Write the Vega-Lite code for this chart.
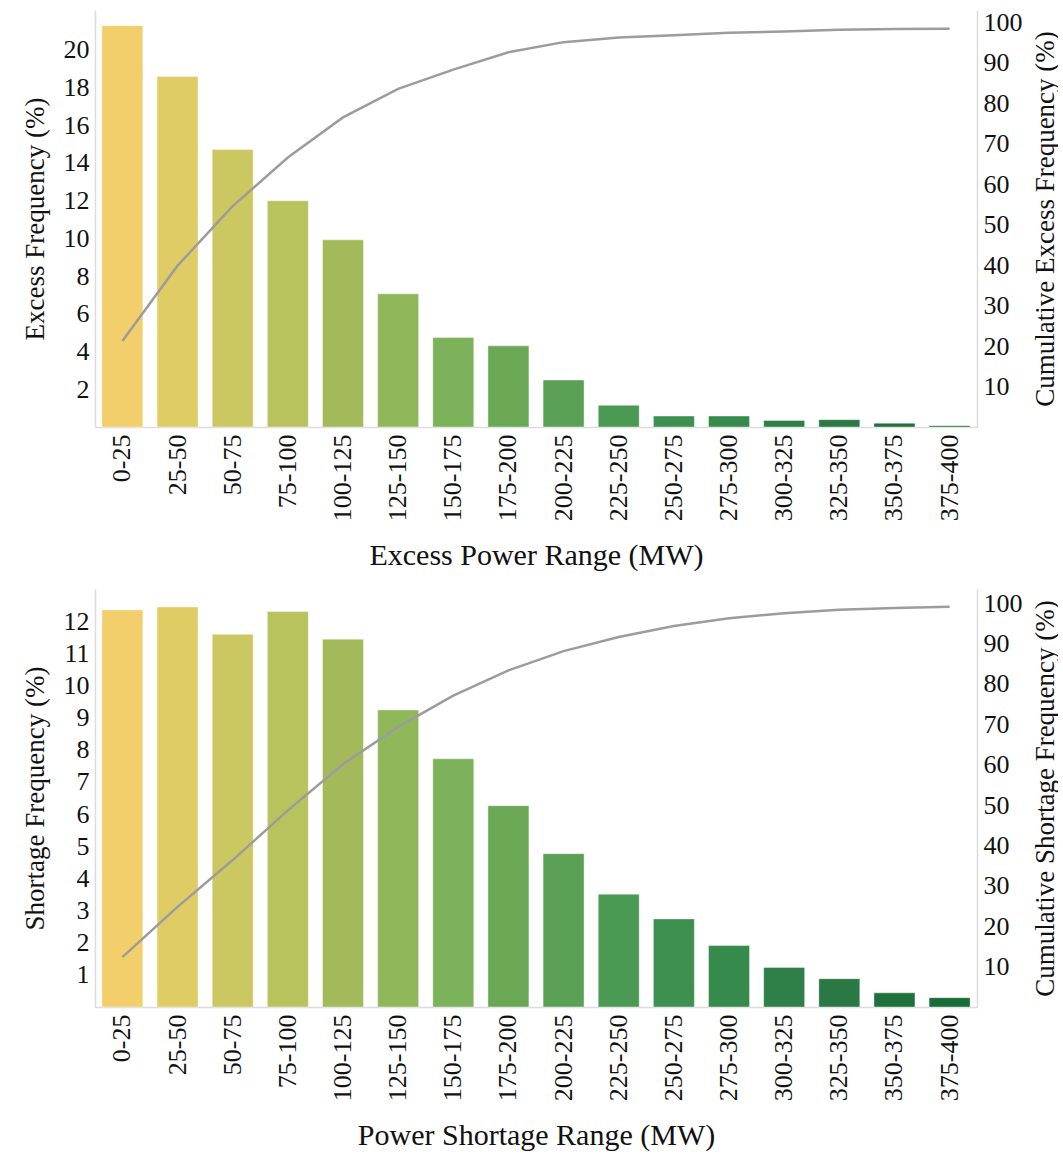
{
  "$schema": "https://vega.github.io/schema/vega-lite/v6.json",
  "background": "white",
  "padding": {"left": 21, "top": 9, "right": 0, "bottom": 0},
  "spacing": 18,
  "config": {
    "font": "Liberation Serif",
    "view": {"stroke": null},
    "axis": {
      "labelFont": "Liberation Serif",
      "titleFont": "Liberation Serif",
      "labelColor": "#111",
      "titleColor": "#111",
      "titleFontWeight": "normal",
      "labelFontSize": 26,
      "titleFontSize": 27,
      "ticks": false,
      "grid": false,
      "domainColor": "#dcdcdc",
      "domainWidth": 1.5
    }
  },
  "datasets": {
    "excess": [
      {"range": "0-25", "freq": 21.27, "cum": 21.27},
      {"range": "25-50", "freq": 18.58, "cum": 39.85},
      {"range": "50-75", "freq": 14.71, "cum": 54.56},
      {"range": "75-100", "freq": 11.99, "cum": 66.55},
      {"range": "100-125", "freq": 9.92, "cum": 76.47},
      {"range": "125-150", "freq": 7.06, "cum": 83.53},
      {"range": "150-175", "freq": 4.74, "cum": 88.27},
      {"range": "175-200", "freq": 4.3, "cum": 92.57},
      {"range": "200-225", "freq": 2.49, "cum": 95.06},
      {"range": "225-250", "freq": 1.15, "cum": 96.21},
      {"range": "250-275", "freq": 0.58, "cum": 96.79},
      {"range": "275-300", "freq": 0.58, "cum": 97.37},
      {"range": "300-325", "freq": 0.35, "cum": 97.72},
      {"range": "325-350", "freq": 0.39, "cum": 98.11},
      {"range": "350-375", "freq": 0.2, "cum": 98.31},
      {"range": "375-400", "freq": 0.07, "cum": 98.38}
    ],
    "shortage": [
      {"range": "0-25", "freq": 12.35, "cum": 12.35},
      {"range": "25-50", "freq": 12.44, "cum": 24.79},
      {"range": "50-75", "freq": 11.59, "cum": 36.38},
      {"range": "75-100", "freq": 12.3, "cum": 48.68},
      {"range": "100-125", "freq": 11.44, "cum": 60.12},
      {"range": "125-150", "freq": 9.24, "cum": 69.36},
      {"range": "150-175", "freq": 7.72, "cum": 77.08},
      {"range": "175-200", "freq": 6.26, "cum": 83.34},
      {"range": "200-225", "freq": 4.77, "cum": 88.11},
      {"range": "225-250", "freq": 3.51, "cum": 91.62},
      {"range": "250-275", "freq": 2.74, "cum": 94.36},
      {"range": "275-300", "freq": 1.91, "cum": 96.27},
      {"range": "300-325", "freq": 1.23, "cum": 97.5},
      {"range": "325-350", "freq": 0.88, "cum": 98.38},
      {"range": "350-375", "freq": 0.44, "cum": 98.82},
      {"range": "375-400", "freq": 0.29, "cum": 99.11}
    ]
  },
  "vconcat": [
    {
      "width": 882,
      "height": 417,
      "data": {"name": "excess"},
      "layer": [
        {
          "mark": {"type": "bar", "stroke": "#ffffff", "strokeOpacity": 0.4, "strokeWidth": 1},
          "encoding": {
            "x": {
              "field": "range", "type": "ordinal",
              "sort": ["0-25","25-50","50-75","75-100","100-125","125-150","150-175","175-200","200-225","225-250","250-275","275-300","300-325","325-350","350-375","375-400"],
              "scale": {"paddingInner": 0.257, "paddingOuter": 0.125},
              "axis": {"title": "Excess Power Range (MW)", "labelAngle": -90, "labelFontSize": 26, "labelPadding": 7, "titleFontSize": 30, "titlePadding": 20}
            },
            "y": {
              "field": "freq", "type": "quantitative",
              "scale": {"domain": [0, 22.1], "nice": false},
              "axis": {"title": "Excess Frequency (%)", "values": [2,4,6,8,10,12,14,16,18,20], "labelPadding": 6, "titlePadding": 14}
            },
            "color": {
              "field": "range", "type": "nominal", "legend": null,
              "scale": {
                "domain": ["0-25","25-50","50-75","75-100","100-125","125-150","150-175","175-200","200-225","225-250","250-275","275-300","300-325","325-350","350-375","375-400"],
                "range": ["#F3CF6B","#E0CC65","#CBC862","#B8C35E","#A4BA5A","#90B85A","#7CB25A","#6AA856","#5AA055","#4A9A53","#3E9050","#368A4C","#2F8048","#2A7843","#1E713B","#176C37"]
              }
            }
          }
        },
        {
          "mark": {"type": "line", "color": "#9c9c9c", "strokeWidth": 2.5},
          "encoding": {
            "x": {
              "field": "range", "type": "ordinal",
              "sort": ["0-25","25-50","50-75","75-100","100-125","125-150","150-175","175-200","200-225","225-250","250-275","275-300","300-325","325-350","350-375","375-400"]
            },
            "y": {
              "field": "cum", "type": "quantitative",
              "scale": {"domain": [0, 103], "nice": false},
              "axis": {"orient": "right", "title": "Cumulative Excess Frequency (%)", "titleAngle": 270, "titleBaseline": "top", "values": [10,20,30,40,50,60,70,80,90,100], "labelPadding": 6, "titlePadding": 10}
            }
          }
        }
      ],
      "resolve": {"scale": {"y": "independent"}}
    },
    {
      "width": 882,
      "height": 418,
      "data": {"name": "shortage"},
      "layer": [
        {
          "mark": {"type": "bar", "stroke": "#ffffff", "strokeOpacity": 0.4, "strokeWidth": 1},
          "encoding": {
            "x": {
              "field": "range", "type": "ordinal",
              "sort": ["0-25","25-50","50-75","75-100","100-125","125-150","150-175","175-200","200-225","225-250","250-275","275-300","300-325","325-350","350-375","375-400"],
              "scale": {"paddingInner": 0.257, "paddingOuter": 0.125},
              "axis": {"title": "Power Shortage Range (MW)", "labelAngle": -90, "labelFontSize": 26, "labelPadding": 7, "titleFontSize": 30, "titlePadding": 20}
            },
            "y": {
              "field": "freq", "type": "quantitative",
              "scale": {"domain": [0, 13], "nice": false},
              "axis": {"title": "Shortage Frequency (%)", "values": [1,2,3,4,5,6,7,8,9,10,11,12], "labelPadding": 6, "titlePadding": 14}
            },
            "color": {
              "field": "range", "type": "nominal", "legend": null,
              "scale": {
                "domain": ["0-25","25-50","50-75","75-100","100-125","125-150","150-175","175-200","200-225","225-250","250-275","275-300","300-325","325-350","350-375","375-400"],
                "range": ["#F3CF6B","#E0CC65","#CBC862","#B8C35E","#A4BA5A","#90B85A","#7CB25A","#6AA856","#5AA055","#4A9A53","#3E9050","#368A4C","#2F8048","#2A7843","#1E713B","#176C37"]
              }
            }
          }
        },
        {
          "mark": {"type": "line", "color": "#9c9c9c", "strokeWidth": 2.5},
          "encoding": {
            "x": {
              "field": "range", "type": "ordinal",
              "sort": ["0-25","25-50","50-75","75-100","100-125","125-150","150-175","175-200","200-225","225-250","250-275","275-300","300-325","325-350","350-375","375-400"]
            },
            "y": {
              "field": "cum", "type": "quantitative",
              "scale": {"domain": [0, 103.5], "nice": false},
              "axis": {"orient": "right", "title": "Cumulative Shortage Frequency (%)", "titleAngle": 270, "titleBaseline": "top", "values": [10,20,30,40,50,60,70,80,90,100], "labelPadding": 6, "titlePadding": 10}
            }
          }
        }
      ],
      "resolve": {"scale": {"y": "independent"}}
    }
  ]
}
